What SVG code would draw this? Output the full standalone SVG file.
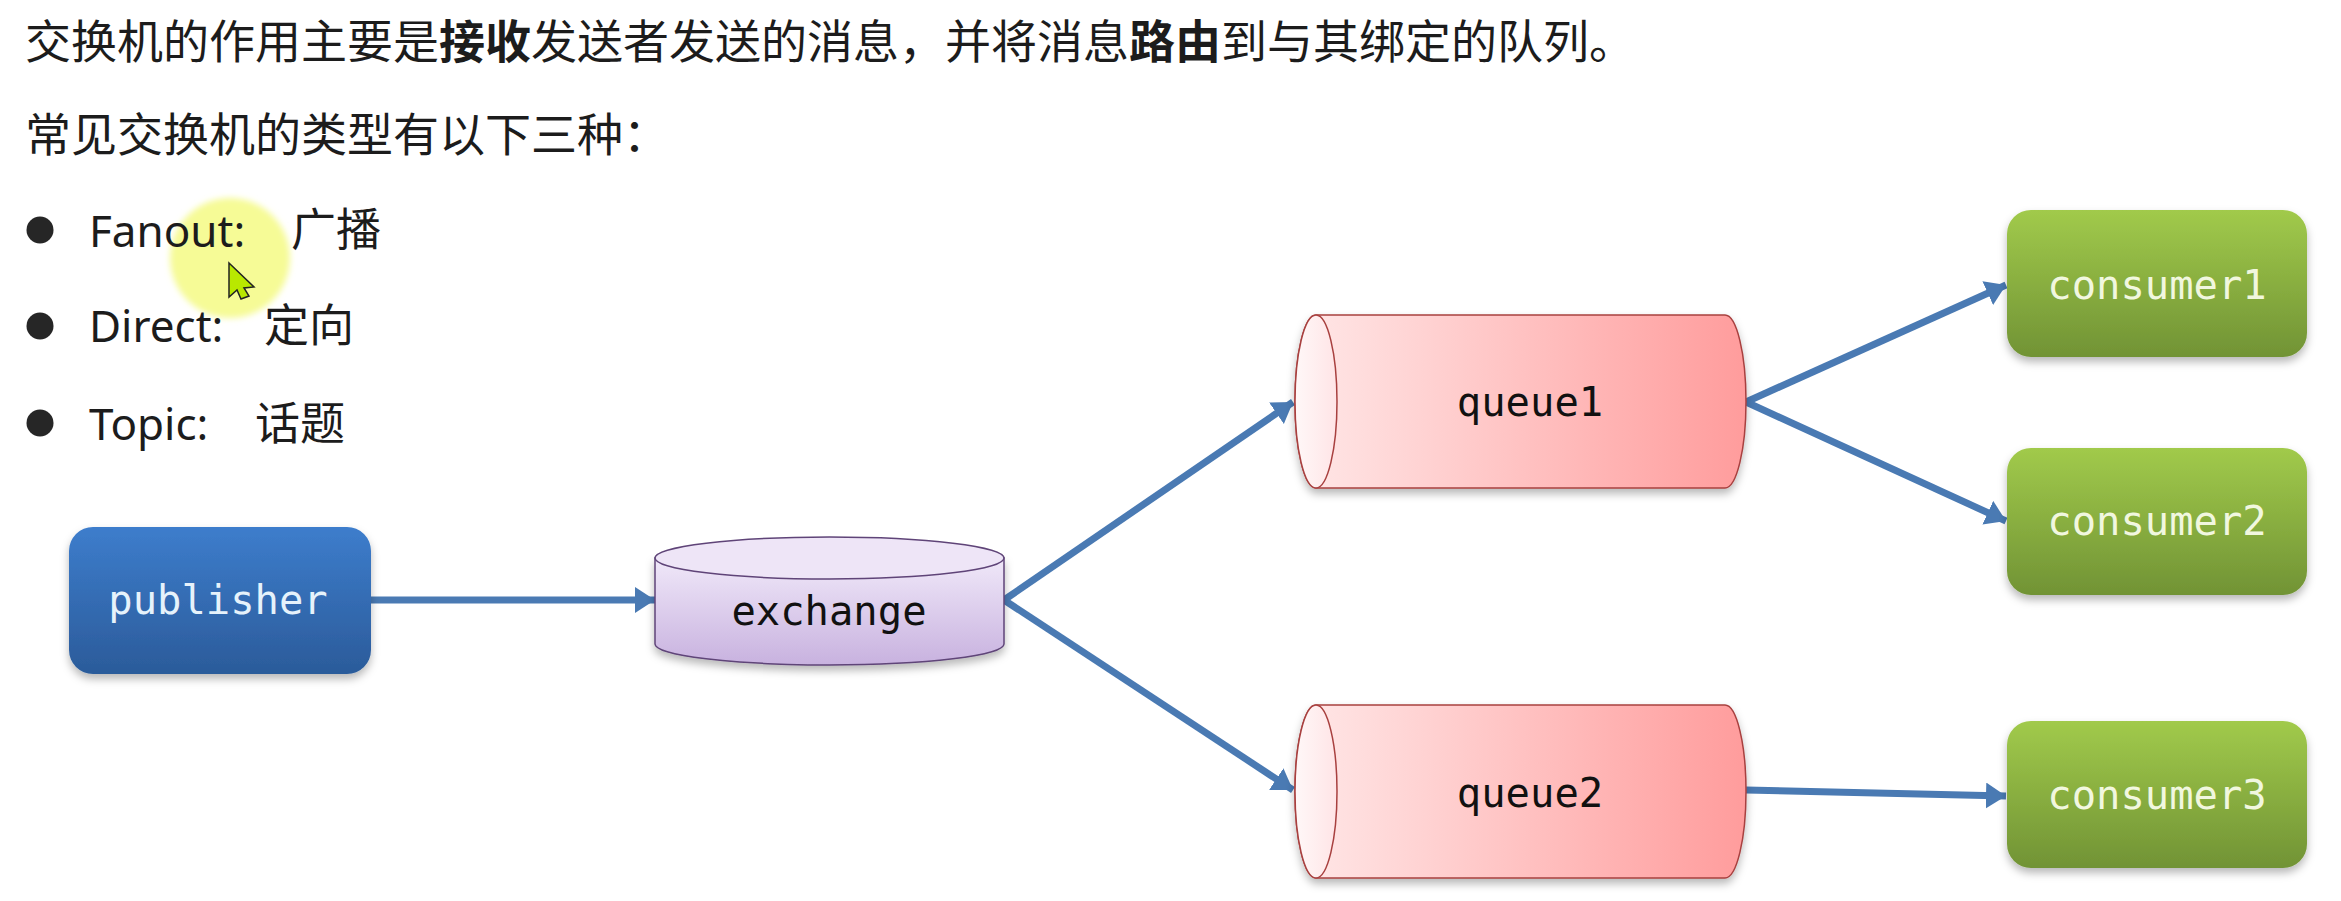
<svg xmlns="http://www.w3.org/2000/svg" width="2341" height="901" viewBox="0 0 2341 901">
<style>
text{font-family:"Noto Sans","Noto Sans CJK SC",sans-serif;fill:#1c1c1c}
.t{font-size:46px;font-family:"Noto Sans CJK SC","Noto Sans",sans-serif}
.b{font-weight:700}
.li{font-size:44px}
.cj{font-size:45px;font-family:"Noto Sans CJK SC",sans-serif}
.m{font-size:40.500px;font-family:"DejaVu Sans Mono","Liberation Mono",monospace;text-anchor:middle}
.w{fill:#e6f2fb}.g{fill:#f1f7df}.k{fill:#111}
.c{fill:none;stroke:#4a7ab3;stroke-width:7;marker-end:url(#ah)}
.bl{fill:#262626}
</style>
<defs>
<marker id="ah" markerUnits="userSpaceOnUse" markerWidth="26" markerHeight="28" refX="20" refY="13" orient="auto"><path d="M0 0L20 13L0 26z" fill="#4a7ab3"/></marker>
<linearGradient id="blue" x1="0" y1="0" x2="0" y2="1"><stop offset="0" stop-color="#3d7dcc"/><stop offset="1" stop-color="#2b5b9a"/></linearGradient>
<linearGradient id="green" x1="0" y1="0" x2="0" y2="1"><stop offset="0" stop-color="#a1ca4b"/><stop offset="1" stop-color="#719335"/></linearGradient>
<linearGradient id="purple" x1="0" y1="0" x2="0" y2="1"><stop offset="0" stop-color="#f0e8f9"/><stop offset="1" stop-color="#c8b2df"/></linearGradient>
<linearGradient id="red" x1="0" y1="0" x2="1" y2="0"><stop offset="0" stop-color="#ffe8e8"/><stop offset="1" stop-color="#ff9c9c"/></linearGradient>
<linearGradient id="cap" x1="0" y1="0" x2="1" y2="0"><stop offset="0" stop-color="#fff8f8"/><stop offset="1" stop-color="#ffe4e6"/></linearGradient>
<filter id="sh" x="-10%" y="-10%" width="120%" height="125%"><feDropShadow dx="0" dy="5" stdDeviation="4" flood-color="#000" flood-opacity=".28"/></filter>
<filter id="glow" x="-30%" y="-30%" width="160%" height="160%"><feGaussianBlur stdDeviation="3"/></filter>
<path id="cyl" d="M21 0H430A21 86.500 0 0 1 430 173H21A21 86.500 0 0 1 21 0z"/>
</defs>
<rect width="2341" height="901" fill="#fff"/>
<g id="highlight"><circle cx="230" cy="258" r="60" fill="#f6fb96" filter="url(#glow)"/></g>
<g id="heading">
<text class="t" x="25" y="58">交换机的作用主要是<tspan class="b">接收</tspan>发送者发送的消息，并将消息<tspan class="b">路由</tspan>到与其绑定的队列。</text>
<text class="t" x="25" y="151">常见交换机的类型有以下三种：</text>
</g>
<g id="list">
<ellipse class="bl" cx="40" cy="230" rx="13.500" ry="13.500"/>
<ellipse class="bl" cx="40" cy="326" rx="13.500" ry="13.500"/>
<ellipse class="bl" cx="40" cy="423" rx="13.500" ry="13.500"/>
<text class="li" x="89" y="247">Fanout:</text><text class="cj" x="291" y="246">广播</text>
<text class="li" x="89" y="342">Direct:</text><text class="cj" x="264" y="342">定向</text>
<text class="li" x="89" y="440">Topic:</text><text class="cj" x="255" y="440">话题</text>
</g>
<g id="cursor"><path d="M229 263L254 287L244 288L249 296L241 299L237 290L229 297z" fill="#b9e800" stroke="#222" stroke-width="1.500"/></g>
<g id="connectors">
<path class="c" d="M371 600H655"/>
<path class="c" d="M1004 600L1293 402"/>
<path class="c" d="M1004 600L1293 790"/>
<path class="c" d="M1746 402L2006 285"/>
<path class="c" d="M1746 402L2006 521"/>
<path class="c" d="M1746 790L2006 796"/>
</g>
<g id="publisher"><rect x="69" y="527" width="302" height="147" rx="24" fill="url(#blue)" filter="url(#sh)"/><text class="m w" x="218" y="614">publisher</text></g>
<g id="exchange"><path d="M655 558V644A174.500 21 0 0 0 1004 644V558z" fill="url(#purple)" stroke="#5f4478" stroke-width="1.500" filter="url(#sh)"/><ellipse cx="829.500" cy="558" rx="174.500" ry="21" fill="#eee5f7" stroke="#5f4478" stroke-width="1.500"/><text class="m k" x="829" y="625">exchange</text></g>
<g id="queue1"><use href="#cyl" x="1295" y="315" fill="url(#red)" stroke="#a8403f" stroke-width="1.500" filter="url(#sh)"/><ellipse cx="1316" cy="401.500" rx="21" ry="86.500" fill="url(#cap)" stroke="#a8403f" stroke-width="1.500"/><text class="m k" x="1530" y="416">queue1</text></g>
<g id="queue2"><use href="#cyl" x="1295" y="705" fill="url(#red)" stroke="#a8403f" stroke-width="1.500" filter="url(#sh)"/><ellipse cx="1316" cy="791.500" rx="21" ry="86.500" fill="url(#cap)" stroke="#a8403f" stroke-width="1.500"/><text class="m k" x="1530" y="807">queue2</text></g>
<g id="consumer1"><rect x="2007" y="210" width="300" height="147" rx="24" fill="url(#green)" filter="url(#sh)"/><text class="m g" x="2157" y="299">consumer1</text></g>
<g id="consumer2"><rect x="2007" y="448" width="300" height="147" rx="24" fill="url(#green)" filter="url(#sh)"/><text class="m g" x="2157" y="535">consumer2</text></g>
<g id="consumer3"><rect x="2007" y="721" width="300" height="147" rx="24" fill="url(#green)" filter="url(#sh)"/><text class="m g" x="2157" y="809">consumer3</text></g>
</svg>
